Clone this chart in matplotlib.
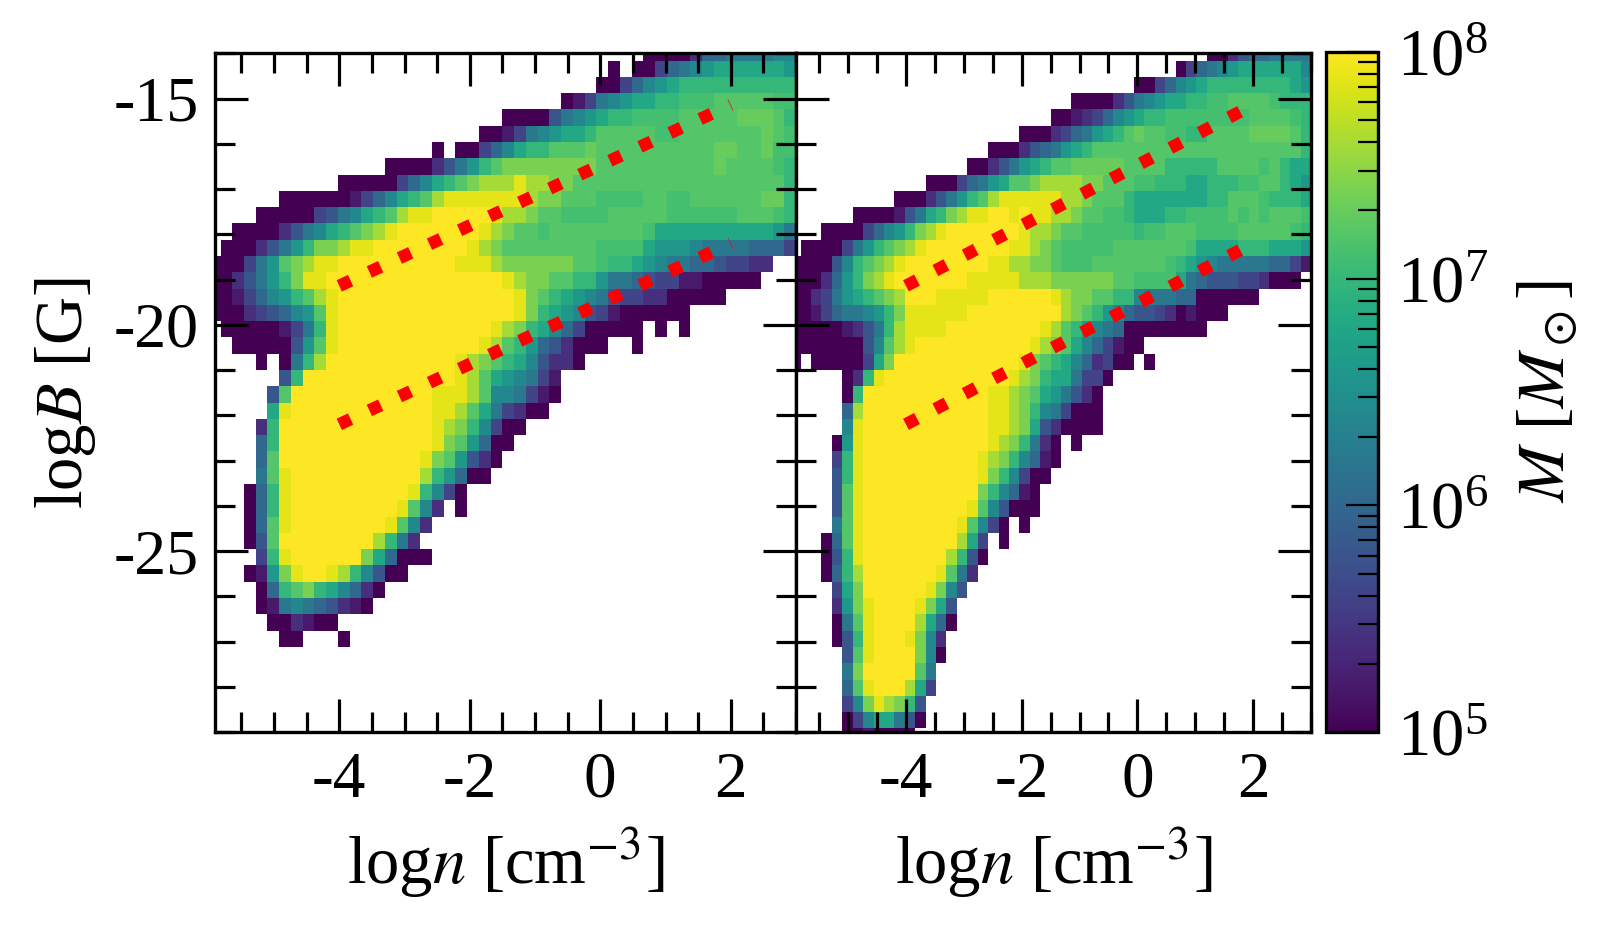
import numpy as np
import matplotlib
matplotlib.use("Agg")
import matplotlib.pyplot as plt
from matplotlib.colors import LogNorm
from matplotlib.ticker import LogLocator, MultipleLocator, NullFormatter

plt.rcParams['font.family'] = ['Liberation Serif', 'DejaVu Serif']
plt.rcParams['mathtext.fontset'] = 'stix'
plt.rcParams['axes.unicode_minus'] = False

# bins of the mass histogram
x_edges = -6 + 0.18 * np.arange(51)
y_edges = -30 + 0.36 * np.arange(51)

# log10 mass for each letter used in the rows below, '.' = empty
level_chars = '0123456789agbhcdef'
level_logm = [5.0, 5.2, 5.4, 5.6, 5.8, 6.0, 6.2, 6.4, 6.6, 6.8, 7.0, 7.1, 7.2, 7.3, 7.4, 7.6, 7.88, 8.0]

# rows: row number -> (first column, levels)
left_rows = {
    44: (37, '0000255666677'),
    43: (34, '0.00356789999998'),
    42: (33, '0035789aaaaaaaaaa'),
    41: (30, '01367899aagggbbbbbgg'),
    40: (25, '000046789aaggggbbbbbhhhba'),
    39: (23, '001367899abbbbbggbbbbbbbhbg'),
    38: (19, '0.003579aabbbh' + 'b'*10 + 'hhbbhgg'),
    37: (15, '0000' + '2468ab' + 'c'*8 + 'b'*10 + 'h' + 'bbbb' + 'ga'),
    36: (11, '00000' + '3579abcdddeddcc' + 'b'*18 + 'a'),
    35: (6, '000000' + '13579abd' + 'e'*7 + 'dcc' + 'bbb' + 'gggg' + 'bb' + 'gg' + 'bbbbbb' + 'hh' + 'a'),
    34: (4, '00000' + '34679abdee' + 'fffff' + 'e' + 'ddc' + 'bb' + 'gggg' + 'bbbbb' + 'gggggg' + 'bbb' + 'ga'),
    33: (2, '0000' + '24679abcde' + 'f'*7 + 'edc' + 'bb' + 'g' + 'b'*8 + 'g' + '9'*10 + '86'),
    32: (1, '000' + '2468accdee' + 'f'*8 + 'edc' + 'b'*8 + 'gggg' + '9888' + '7' + '6666' + '555' + '3'),
    31: (0, '000' + '368bcdee' + 'f'*10 + 'eee' + 'd' + 'c'*6 + 'bb' + 'gaa' + '987' + '66' + '55' + '4' + '33' + '22'),
    30: (0, '00' + '2468acee' + 'f'*15 + 'edccbbaa' + '8665433' + '11' + '00000'),
    29: (0, '00' + '13578abde' + 'f'*15 + 'ecba98764332200000'),
    28: (0, '000' + '234578be' + 'f'*15 + 'eca98743' + '1' + '000000'),
    27: (1, '00000' + '136ae' + 'f'*13 + 'edca9753' + '00000.0.0'),
    26: (2, '00000' + '48be' + 'f'*12 + 'edba8542' + '000..0'),
    25: (4, '0.0' + '6ad' + 'f'*11 + 'edcba974220'),
    24: (6, '4a' + 'f'*13 + 'edb' + '987631'),
    23: (5, '4b' + 'f'*12 + 'eeedb' + '776310'),
    22: (5, '9e' + 'f'*12 + 'eedb963200'),
    21: (4, '2a' + 'f'*13 + 'edca7300'),
    20: (4, '5a' + 'f'*13 + 'ecb8500'),
    19: (4, '5b' + 'f'*12 + 'ecb8420'),
    18: (4, '6be' + 'f'*11 + 'da8500'),
    17: (3, '05ae' + 'f'*10 + 'ea730'),
    16: (3, '05ae' + 'f'*9 + 'eb72.0'),
    15: (3, '05be' + 'f'*8 + 'eb72'),
    14: (3, '04bf' + 'f'*7 + 'da62'),
    13: (4, '3ae' + 'f'*6 + 'c95000'),
    12: (3, '018ceffeda7400'),
    11: (4, '05abca97520'),
    10: (4, '0167654210'),
    9: (5, '002100'),
    8: (6, '00...0'),
}

right_rows = {
    44: (40, '0024556666'),
    43: (37, '0356789999997'),
    42: (33, '0035789' + 'a'*8 + '98'),
    41: (27, '0000' + '2467899' + 'aagg' + 'bbbb' + 'gaaa'),
    40: (25, '001235789' + 'aaggggg' + 'ggg' + 'bbbb' + 'ga'),
    39: (22, '000' + '235689abh' + 'bb' + 'ggaa' + 'bbbb' + 'hhhh' + 'ba'),
    38: (19, '000' + '245689a' + 'b'*20 + 'a'),
    37: (17, '00' + '24689a' + 'bb' + 'hhhhh' + 'bbbb' + 'aaaaa' + 'bbbb' + 'gba' + '99'),
    36: (13, '000' + '35689bbc' + 'dddd' + 'cc' + 'bbb' + 'ggaaa' + '99' + 'aaagg' + 'bba98'),
    35: (10, '000' + '2468abd' + 'e'*6 + 'ddc' + 'bbb' + 'a' + '9'*7 + 'aa' + 'bbb' + 'gaaa' + '9'),
    34: (6, '0000' + '1469acdee' + 'ffefee' + 'ddcbb' + 'gga' + '999' + 'aaggg' + 'gbgbgb' + 'bbg'),
    33: (3, '0000' + '3578acde' + 'f'*7 + 'eddc' + 'bb' + 'ggggg' + 'agg' + 'bbb' + 'gggg' + 'bbbbb' + 'ga'),
    32: (1, '0000' + '368abcde' + 'f'*8 + 'eedc' + 'b' + 'ggggg' + 'b'*7 + 'g' + '9999' + 'aaa' + '999' + '8'),
    31: (0, '0000' + '47abcde' + 'f'*8 + 'eeddcc' + 'b' + 'ggg' + 'b'*7 + 'ga' + '987' + '66666' + '55' + '31'),
    30: (0, '000' + '258acde' + 'f'*7 + 'eeeee' + 'ddd' + 'cccccc' + 'bb' + 'gggg' + '965444332' + '000'),
    29: (0, '00' + '23689abcd' + 'fff' + 'eeeee' + 'f'*6 + 'edccbbaa' + '766655' + '000000'),
    28: (0, '00' + '1356678ac' + 'eeeeee' + 'f'*9 + 'dcba875' + '443201000'),
    27: (0, '00000' + '1246ad' + 'eeee' + 'f'*9 + 'edba8765' + '0'*8),
    26: (0, '0'*7 + '47bde' + 'f'*11 + 'edcb97531' + '00'),
    25: (0, '0.00000' + '39c' + 'f'*12 + 'ecba97523' + '00.0'),
    24: (5, '02ae' + 'f'*12 + 'edca996330'),
    23: (5, '0a' + 'f'*12 + 'eedcb986420'),
    22: (5, '5d' + 'f'*12 + 'eedca763000'),
    21: (5, '7e' + 'f'*12 + 'eedc9420000'),
    20: (4, '08e' + 'f'*12 + 'edca620.0'),
    19: (4, '3ae' + 'f'*11 + 'edca7510'),
    18: (4, '4ae' + 'f'*11 + 'eca7300'),
    17: (4, '4be' + 'f'*11 + 'ca7510'),
    16: (4, '4be' + 'f'*10 + 'eb74000'),
    15: (4, '6be' + 'f'*9 + 'eb730.0'),
    14: (3, '05be' + 'f'*9 + 'd93.0'),
    13: (3, '04ae' + 'f'*8 + 'da40'),
    12: (3, '05ad' + 'f'*7 + 'eb62'),
    11: (4, '39c' + 'f'*6 + 'ec74'),
    10: (4, '28ce' + 'ffff' + 'ec94'),
    9: (4, '06be' + 'ffff' + 'd950'),
    8: (4, '04ae' + 'fff' + 'ec72'),
    7: (5, '4be' + 'ffff' + 'c70'),
    6: (5, '6cf' + 'ffff' + 'b6'),
    5: (5, '5be' + 'fff' + 'd93'),
    4: (5, '37cedca4'),
    3: (5, '03799640'),
    2: (5, '0010000'),
}

# red dotted relations
line_x = [-4, 2]
upper_y = [-19.14, -15.14]
lower_y = [-22.2, -18.2]

x_ticks = [-4, -2, 0, 2]
x_ticklabels = ['-4', '-2', '0', '2']
y_ticks = [-25, -20, -15]
y_ticklabels = ['-25', '-20', '-15']
FS = 48


def to_grid(rows):
    grid = np.full((50, 50), np.nan)
    for row, (start, levels) in rows.items():
        for k, c in enumerate(levels):
            if c != '.':
                grid[row, start + k] = 10 ** level_logm[level_chars.index(c)]
    return np.ma.masked_invalid(grid)


def px_axes(fig, x0, x1, y0, y1):
    # pixel box, y measured from the top of the picture
    W, H = 1608.0, 930.0
    return fig.add_axes([x0 / W, 1 - y1 / H, (x1 - x0) / W, (y1 - y0) / H])


fig = plt.figure(figsize=(16.08, 9.3), dpi=100)
ax1 = px_axes(fig, 215.3, 796, 53.3, 732)
ax2 = px_axes(fig, 796, 1311, 53.3, 732)
cax = px_axes(fig, 1326.5, 1378, 52, 732)

norm = LogNorm(vmin=1e5, vmax=1e8)
for ax, rows in [(ax1, left_rows), (ax2, right_rows)]:
    mesh = ax.pcolormesh(x_edges, y_edges, to_grid(rows), cmap='viridis', norm=norm,
                         edgecolors='none', antialiased=False)
    ax.plot(line_x, upper_y, ':', color='red', lw=9)
    ax.plot(line_x, lower_y, ':', color='red', lw=9)
    ax.set_xlim(-5.9, 3)
    ax.set_ylim(-29, -14)
    ax.set_xticks(x_ticks)
    ax.set_xticklabels(x_ticklabels)
    ax.set_yticks(y_ticks)
    ax.xaxis.set_minor_locator(MultipleLocator(0.5))
    ax.yaxis.set_minor_locator(MultipleLocator(1))
    ax.tick_params(which='both', direction='in', top=True, right=True, width=2.3)
    ax.tick_params(which='major', length=24, labelsize=47, pad=14)
    ax.tick_params(which='minor', length=14.5)
    ax.tick_params(axis='y', which='major', labelsize=46, pad=12)
    ax.set_axisbelow(False)
    for s in ax.spines.values():
        s.set_linewidth(2.4)
    ax.set_xlabel(r'log$n$ [cm$^{-3}$]', fontsize=FS, labelpad=10)

ax1.set_yticklabels(y_ticklabels)
ax1.set_ylabel(r'log$B$ [G]', fontsize=FS, labelpad=11)
ax2.tick_params(labelleft=False)

cbar = fig.colorbar(mesh, cax=cax)
cbar.ax.yaxis.set_major_locator(LogLocator(base=10, numticks=6))
cbar.ax.yaxis.set_minor_locator(LogLocator(base=10, subs=np.arange(2, 10), numticks=12))
cbar.ax.yaxis.set_minor_formatter(NullFormatter())
cbar.ax.tick_params(which='both', direction='in', width=1.6)
cbar.ax.tick_params(which='major', length=23, labelsize=FS, pad=14)
cbar.ax.tick_params(which='minor', length=14.5)
cbar.outline.set_linewidth(2.4)
cbar.set_label(r'$M$ [$M_\odot$]', fontsize=FS, labelpad=19)

fig.savefig('out.png', dpi=100)
